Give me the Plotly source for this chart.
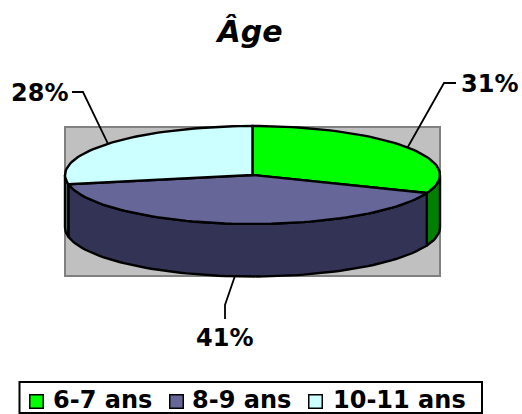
import math
import plotly.graph_objects as go

categories = ["6-7 ans", "8-9 ans", "10-11 ans"]
values = [31, 41, 28]
top_colors = ["#00FF00", "#666699", "#CCFFFF"]
side_colors = ["#007F00", "#333355", "#667F7F"]
title_text = "Âge"

CX, CY, RX, RY, DEPTH = 252.5, 175, 187.5, 49, 52.5
FONT = "DejaVu Sans"

def pt(a, drop=0):
    r = math.radians(a)
    return CX + RX * math.sin(r), CY - RY * math.cos(r) + drop

def arc(a0, a1, drop=0):
    n = max(2, int(abs(a1 - a0) / 2) + 1)
    return [pt(a0 + (a1 - a0) * i / (n - 1), drop) for i in range(n)]

fig = go.Figure()
total = sum(values)
edges = [0]
for v in values:
    edges.append(edges[-1] + v / total * 360)

# side walls (visible for 90..270 degrees clockwise from the top)
for i in range(len(values)):
    a0, a1 = max(edges[i], 90), min(edges[i + 1], 270)
    if a1 <= a0:
        continue
    p = arc(a0, a1) + arc(a1, a0, DEPTH)
    p.append(p[0])
    fig.add_trace(go.Scatter(x=[q[0] for q in p], y=[q[1] for q in p], mode="lines", fill="toself",
                             fillcolor=side_colors[i], line=dict(color="#000000", width=2.4),
                             showlegend=False, hoverinfo="skip"))
# top faces
for i in range(len(values)):
    p = [(CX, CY)] + arc(edges[i], edges[i + 1]) + [(CX, CY)]
    fig.add_trace(go.Scatter(x=[q[0] for q in p], y=[q[1] for q in p], mode="lines", fill="toself",
                             fillcolor=top_colors[i], line=dict(color="#000000", width=2.4),
                             name=categories[i], showlegend=False, hoverinfo="skip"))

# leader lines and percent labels
elbows = [[(444, 83), (456, 83)], [(225, 305), (225, 319)], [(83, 92), (72, 92)]]
label_pos = [(489, 84), (224, 338), (39, 93)]
for i, v in enumerate(values):
    mid = (edges[i] + edges[i + 1]) / 2
    drop = DEPTH if 90 < mid < 270 else 0
    p = [pt(mid, drop)] + elbows[i]
    fig.add_trace(go.Scatter(x=[q[0] for q in p], y=[q[1] for q in p], mode="lines",
                             line=dict(color="#000000", width=1.8), showlegend=False, hoverinfo="skip"))
    fig.add_annotation(x=label_pos[i][0], y=label_pos[i][1], text=f"<b>{v}%</b>", showarrow=False,
                       xanchor="center", yanchor="middle",
                       font=dict(family=FONT, size=24, color="#000000"))

# legend box, swatches and entries
fig.add_shape(type="rect", x0=19.5, x1=482, y0=382, y1=413, xref="x", yref="y",
              fillcolor="#FFFFFF", line=dict(color="#000000", width=2), layer="below")
swatch_x = [36.5, 176.5, 315.5]
text_x = [53, 192, 333]
fig.add_trace(go.Scatter(x=swatch_x, y=[401.5] * 3, mode="markers", showlegend=False, hoverinfo="skip",
                         marker=dict(symbol="square", size=13.5, color=top_colors,
                                     line=dict(color="#000000", width=1.5))))
for i, c in enumerate(categories):
    fig.add_annotation(x=text_x[i], y=400, text=f"<b>{c}</b>", showarrow=False, xanchor="left",
                       yanchor="middle", xshift=-2, font=dict(family=FONT, size=24, color="#000000"))

fig.add_shape(type="rect", x0=65, x1=440, y0=127, y1=276, xref="x", yref="y", layer="below",
              fillcolor="#C0C0C0", line=dict(color="#808080", width=2))

fig.update_layout(
    width=522, height=414, margin=dict(l=0, r=0, t=0, b=0),
    paper_bgcolor="#FFFFFF", plot_bgcolor="#FFFFFF", showlegend=False,
    xaxis=dict(range=[0, 522], visible=False, fixedrange=True),
    yaxis=dict(range=[414, 0], visible=False, fixedrange=True),
    title=dict(text=f"<b><i>{title_text}</i></b>", x=250 / 522, xanchor="center", y=1 - 31 / 414, yanchor="middle",
               font=dict(family=FONT, size=30, color="#000000")),
)
fig.write_html("out.html", config=dict(displayModeBar=False),
               post_script="document.body.style.margin='0';document.documentElement.style.overflow='hidden';")
